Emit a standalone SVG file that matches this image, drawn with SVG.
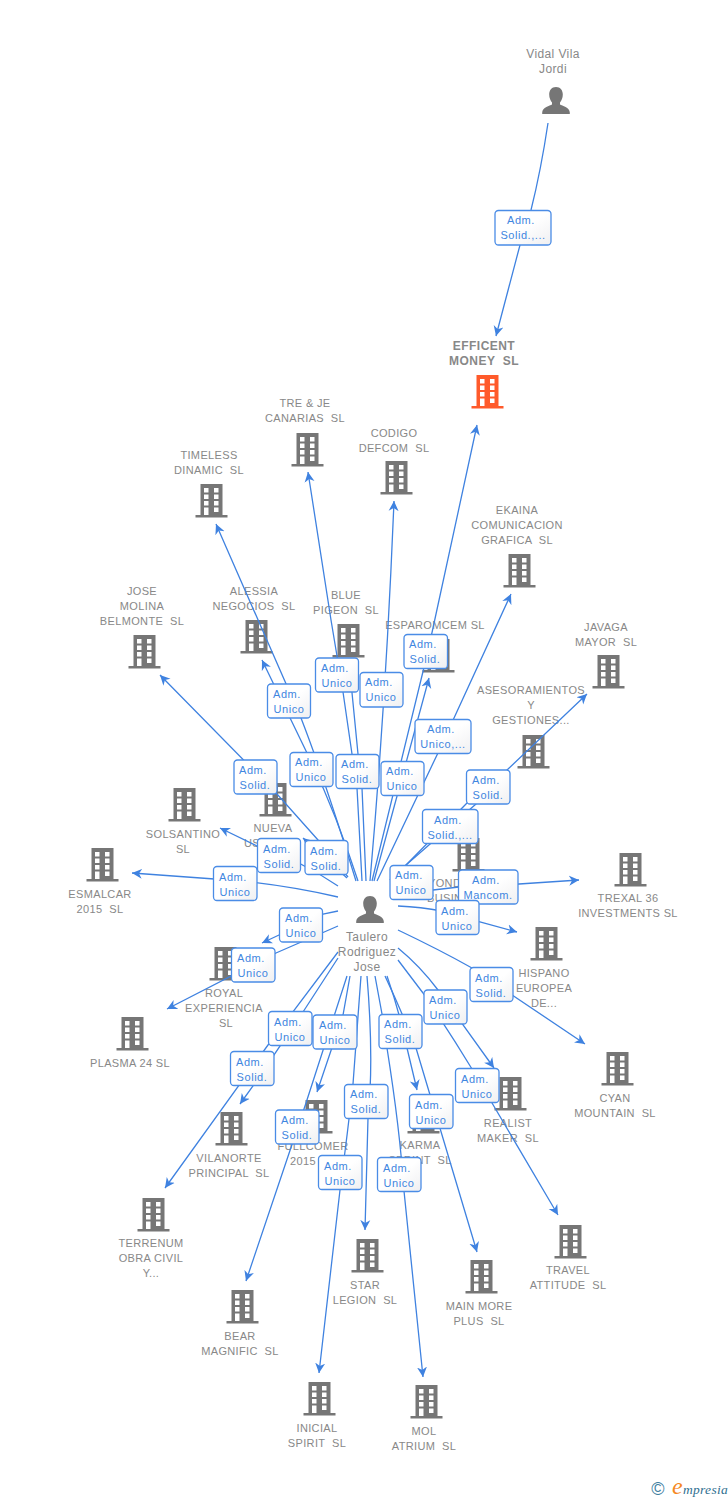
<svg xmlns="http://www.w3.org/2000/svg" width="728" height="1500" viewBox="0 0 728 1500">
<style>
text{font-family:"Liberation Sans",Arial,sans-serif}
.n text{font-size:11px;letter-spacing:.35px;fill:#888;text-anchor:middle}
.p text{font-size:12px;letter-spacing:.4px;fill:#888;text-anchor:middle}
.n text.s{text-anchor:start}
.n text.e{font-size:12px;font-weight:bold;letter-spacing:.45px}
.b{fill:#767676}
.o{fill:#ff5a2b}
#connectors path{fill:none;stroke:#3f82e0;stroke-width:1.3;marker-end:url(#arr)}
#labels rect{fill:url(#lg);stroke:#4a8ce6;stroke-width:1.3}
#labels text{font-size:11px;letter-spacing:.55px;fill:#3f86e0;text-anchor:middle}
</style>
<defs>
<marker id="arr" markerUnits="userSpaceOnUse" markerWidth="12" markerHeight="12" refX="10" refY="6" orient="auto" viewBox="0 0 12 12"><path d="M10,6L0,1L3,6L0,11Z" fill="#3f82e0"/></marker>
<linearGradient id="lg" x1="0" y1="0" x2="1" y2="1"><stop offset="0" stop-color="#fff"/><stop offset=".5" stop-color="#fff"/><stop offset="1" stop-color="#efeff1"/></linearGradient>
<path id="bd" transform="translate(.5,0)" fill-rule="evenodd" d="M-11,0H11V31H16V33.5H-16V31H-11ZM-7.5,4V8.5H-3V4ZM2.500,4V8.500H7V4ZM-7.5,10.500V15H-3V10.500ZM2.500,10.500V15H7V10.500ZM-7.500,17V21.500H-3V17ZM2.500,17V21.500H7V17ZM-7.500,23.500V31H-3V23.500ZM2.500,23.500V28H7V23.500Z"/>
<path id="pr" d="M0,0C4.500,0 6.800,3.500 6.800,7.500C6.800,11 5.500,13.500 4,15.500V17.500C6,19 13.800,20 13.800,25.500V27H-13.800V25.500C-13.800,20 -6,19 -4,17.500V15.500C-5.500,13.500 -6.800,11 -6.800,7.500C-6.800,3.500 -4.500,0 0,0Z" fill="#767676"/>
</defs>
<rect width="728" height="1500" fill="#fff"/>

<g id="nodes">
<g id="person-vidal" class="p"><text x="553" y="58">Vidal Vila</text><text x="553" y="73">Jordi</text><use href="#pr" x="556" y="87"/></g>
<g id="n-efficent" class="n"><text class="e" x="484" y="350">EFFICENT</text><text class="e" x="484" y="365">MONEY &#160;SL</text><use href="#bd" x="487" y="375" class="o"/></g>
<g id="n-treje" class="n"><text x="305" y="407">TRE &amp; JE</text><text x="305" y="422">CANARIAS &#160;SL</text><use href="#bd" x="307" y="433" class="b"/></g>
<g id="n-codigo" class="n"><text x="394" y="437">CODIGO</text><text x="394" y="452">DEFCOM &#160;SL</text><use href="#bd" x="396" y="461" class="b"/></g>
<g id="n-timeless" class="n"><text x="209" y="459">TIMELESS</text><text x="209" y="474">DINAMIC &#160;SL</text><use href="#bd" x="211" y="484" class="b"/></g>
<g id="n-ekaina" class="n"><text x="517" y="514">EKAINA</text><text x="517" y="529">COMUNICACION</text><text x="517" y="544">GRAFICA &#160;SL</text><use href="#bd" x="519" y="554" class="b"/></g>
<g id="n-jose" class="n"><text x="142" y="595">JOSE</text><text x="142" y="610">MOLINA</text><text x="142" y="625">BELMONTE &#160;SL</text><use href="#bd" x="144" y="635" class="b"/></g>
<g id="n-alessia" class="n"><text x="254" y="595">ALESSIA</text><text x="254" y="610">NEGOCIOS &#160;SL</text><use href="#bd" x="256" y="620" class="b"/></g>
<g id="n-blue" class="n"><text x="346" y="599">BLUE</text><text x="346" y="614">PIGEON &#160;SL</text><use href="#bd" x="348" y="624" class="b"/></g>
<g id="n-esparomcem" class="n"><text x="435" y="629">ESPAROMCEM SL</text><use href="#bd" x="438" y="639" class="b"/></g>
<g id="n-javaga" class="n"><text x="606" y="631">JAVAGA</text><text x="606" y="646">MAYOR &#160;SL</text><use href="#bd" x="608" y="655" class="b"/></g>
<g id="n-asesor" class="n"><text x="531" y="694">ASESORAMIENTOS</text><text x="531" y="709">Y</text><text x="531" y="724">GESTIONES...</text><use href="#bd" x="533" y="735" class="b"/></g>
<g id="n-solsantino" class="n"><text x="183" y="838">SOLSANTINO</text><text x="183" y="853">SL</text><use href="#bd" x="184" y="788" class="b"/></g>
<g id="n-nueva" class="n"><text x="273" y="832">NUEVA</text><text class="s" x="244" y="847">US</text><use href="#bd" x="275" y="783" class="b"/></g>
<g id="n-esmalcar" class="n"><text x="100" y="898">ESMALCAR</text><text x="100" y="913">2015 &#160;SL</text><use href="#bd" x="102" y="848" class="b"/></g>
<g id="n-ond" class="n"><text class="s" x="428" y="887">YOND</text><text class="s" x="427" y="902">BUSIN</text><use href="#bd" x="468" y="838" class="b"/></g>
<g id="n-trexal" class="n"><text x="628" y="902">TREXAL 36</text><text x="628" y="917">INVESTMENTS SL</text><use href="#bd" x="630" y="853" class="b"/></g>
<g id="n-hispano" class="n"><text x="544" y="977">HISPANO</text><text x="544" y="992">EUROPEA</text><text x="544" y="1007">DE...</text><use href="#bd" x="546" y="927" class="b"/></g>
<g id="n-royal" class="n"><text x="224" y="997">ROYAL</text><text x="224" y="1012">EXPERIENCIA</text><text x="226" y="1027">SL</text><use href="#bd" x="225" y="947" class="b"/></g>
<g id="n-plasma" class="n"><text x="130" y="1067">PLASMA 24 SL</text><use href="#bd" x="132" y="1017" class="b"/></g>
<g id="n-cyan" class="n"><text x="615" y="1102">CYAN</text><text x="615" y="1117">MOUNTAIN &#160;SL</text><use href="#bd" x="617" y="1052" class="b"/></g>
<g id="n-realist" class="n"><text x="508" y="1127">REALIST</text><text x="508" y="1142">MAKER &#160;SL</text><use href="#bd" x="510" y="1077" class="b"/></g>
<g id="n-vilanorte" class="n"><text x="229" y="1162">VILANORTE</text><text x="229" y="1177">PRINCIPAL &#160;SL</text><use href="#bd" x="231" y="1112" class="b"/></g>
<g id="n-fullcomer" class="n"><text x="313" y="1150">FULLCOMER</text><text class="s" x="290" y="1165">2015</text><use href="#bd" x="316" y="1100" class="b"/></g>
<g id="n-karma" class="n"><text x="420" y="1149">KARMA</text><text x="420" y="1164">SPRINT &#160;SL</text><use href="#bd" x="423" y="1100" class="b"/></g>
<g id="n-terrenum" class="n"><text x="151" y="1247">TERRENUM</text><text x="151" y="1262">OBRA CIVIL</text><text x="151" y="1277">Y...</text><use href="#bd" x="153" y="1198" class="b"/></g>
<g id="n-star" class="n"><text x="365" y="1289">STAR</text><text x="365" y="1304">LEGION &#160;SL</text><use href="#bd" x="367" y="1239" class="b"/></g>
<g id="n-travel" class="n"><text x="568" y="1274">TRAVEL</text><text x="568" y="1289">ATTITUDE &#160;SL</text><use href="#bd" x="570" y="1225" class="b"/></g>
<g id="n-main" class="n"><text x="479" y="1310">MAIN MORE</text><text x="479" y="1325">PLUS &#160;SL</text><use href="#bd" x="481" y="1260" class="b"/></g>
<g id="n-bear" class="n"><text x="240" y="1340">BEAR</text><text x="240" y="1355">MAGNIFIC &#160;SL</text><use href="#bd" x="242" y="1290" class="b"/></g>
<g id="n-inicial" class="n"><text x="317" y="1432">INICIAL</text><text x="317" y="1447">SPIRIT &#160;SL</text><use href="#bd" x="319" y="1382" class="b"/></g>
<g id="n-mol" class="n"><text x="424" y="1435">MOL</text><text x="424" y="1450">ATRIUM &#160;SL</text><use href="#bd" x="426" y="1385" class="b"/></g>
<g id="person-taulero" class="p"><use href="#pr" x="370" y="896"/><text x="367" y="941">Taulero</text><text x="367" y="956">Rodriguez</text><text x="367" y="971">Jose</text></g>
</g>

<g id="connectors">
<path d="M548,123Q541,170 531,210L520,245L496,336"/>
<path d="M372,881L428,651L477,425"/>
<path d="M366,881L362,788L358,754L349,662"/>
<path d="M362,881L357,788L352,754L343,692L331,620L308,472"/>
<path d="M370,881Q386,700 394,501"/>
<path d="M374,881L429,678"/>
<path d="M377,881L437.600,753.700L511,594"/>
<path d="M356,881Q325,780 301,718L216,524"/>
<path d="M358,881Q335,810 307,753L262,660"/>
<path d="M348,877L318,840L277,794L160,675"/>
<path d="M347,878L303,838"/>
<path d="M338,886Q300,860 257,846L220,828"/>
<path d="M338,897Q285,885 235,880.500L132,873"/>
<path d="M390,880L406,865L476,804L506,771L587,694"/>
<path d="M390,880L406,865L467,803L497,773"/>
<path d="M398,893L433,890L459,887L519,884L579,880"/>
<path d="M398,906Q445,908 479,921.700L517,932"/>
<path d="M398,930Q440,950 472,968L585,1044"/>
<path d="M398,948Q420,966 438,990L494,1068"/>
<path d="M398,960L423,993Q447,1028 472,1069L558,1215"/>
<path d="M385,976Q402,1012 416,1048L477,1252"/>
<path d="M387,976Q399,1010 407,1048L417,1090"/>
<path d="M375,976L382,1014L387,1048Q400,1130 404,1191L423,1377"/>
<path d="M367,976Q374,1060 368,1118L365,1230"/>
<path d="M361,976L353,1084Q348,1130 340,1190L319,1373"/>
<path d="M350,976L343,1015L317,1092"/>
<path d="M347,976L306,1103L246,1281"/>
<path d="M338,958L303,1012L253,1086L240,1104"/>
<path d="M338,952L268,1045L165,1188"/>
<path d="M338,911L323,914L279,935L262,943"/>
<path d="M338,926L276,953L167,1009"/>
</g>

<g id="labels">
<g><rect x="495" y="210.500" width="56" height="34.500" rx="3.500"/><text x="521" y="224">Adm.</text><text x="523" y="239">Solid.,...</text></g>
<g><rect x="404" y="634.500" width="43.500" height="34" rx="3.500"/><text x="423" y="648">Adm.</text><text x="425" y="663">Solid.</text></g>
<g><rect x="315.500" y="658" width="43" height="34" rx="3.500"/><text x="335" y="672">Adm.</text><text x="337" y="687">Unico</text></g>
<g><rect x="360" y="672.500" width="43" height="34.500" rx="3.500"/><text x="379" y="686">Adm.</text><text x="381" y="701">Unico</text></g>
<g><rect x="267.500" y="684" width="43" height="34" rx="3.500"/><text x="287" y="698">Adm.</text><text x="289" y="713">Unico</text></g>
<g><rect x="415" y="719.500" width="56" height="34" rx="3.500"/><text x="441" y="733">Adm.</text><text x="443" y="748">Unico,...</text></g>
<g><rect x="290" y="752.500" width="43" height="34" rx="3.500"/><text x="309" y="766">Adm.</text><text x="311" y="781">Unico</text></g>
<g><rect x="336" y="754.500" width="43" height="34" rx="3.500"/><text x="355" y="768">Adm.</text><text x="357" y="783">Solid.</text></g>
<g><rect x="381" y="761.500" width="43" height="34" rx="3.500"/><text x="400" y="775">Adm.</text><text x="402" y="790">Unico</text></g>
<g><rect x="234" y="760" width="43" height="34" rx="3.500"/><text x="253" y="774">Adm.</text><text x="255" y="789">Solid.</text></g>
<g><rect x="466.500" y="770" width="43.500" height="34" rx="3.500"/><text x="486" y="784">Adm.</text><text x="488" y="799">Solid.</text></g>
<g><rect x="422.500" y="809.500" width="55.500" height="34" rx="3.500"/><text x="448" y="824">Adm.</text><text x="450" y="839">Solid.,...</text></g>
<g><rect x="257.500" y="838.500" width="43" height="34" rx="3.500"/><text x="277" y="853">Adm.</text><text x="279" y="868">Solid.</text></g>
<g><rect x="305" y="840.500" width="43" height="34" rx="3.500"/><text x="324" y="855">Adm.</text><text x="326" y="870">Solid.</text></g>
<g><rect x="390" y="865.500" width="43" height="34" rx="3.500"/><text x="409" y="879">Adm.</text><text x="411" y="894">Unico</text></g>
<g><rect x="458.500" y="870" width="59.500" height="34" rx="3.500"/><text x="486" y="884">Adm.</text><text x="488" y="899">Mancom.</text></g>
<g><rect x="213.500" y="866.500" width="43.500" height="34" rx="3.500"/><text x="233" y="881">Adm.</text><text x="235" y="896">Unico</text></g>
<g><rect x="436" y="900.500" width="43" height="34" rx="3.500"/><text x="455" y="915">Adm.</text><text x="457" y="930">Unico</text></g>
<g><rect x="279.500" y="908" width="43" height="34" rx="3.500"/><text x="299" y="922">Adm.</text><text x="301" y="937">Unico</text></g>
<g><rect x="231.500" y="948" width="43.500" height="34" rx="3.500"/><text x="251" y="962">Adm.</text><text x="253" y="977">Unico</text></g>
<g><rect x="470" y="967.500" width="43" height="34" rx="3.500"/><text x="489" y="982">Adm.</text><text x="491" y="997">Solid.</text></g>
<g><rect x="424" y="990" width="43" height="34" rx="3.500"/><text x="443" y="1004">Adm.</text><text x="445" y="1019">Unico</text></g>
<g><rect x="268.500" y="1011.500" width="43.500" height="34" rx="3.500"/><text x="288" y="1026">Adm.</text><text x="290" y="1041">Unico</text></g>
<g><rect x="313" y="1015" width="44" height="34" rx="3.500"/><text x="333" y="1029">Adm.</text><text x="335" y="1044">Unico</text></g>
<g><rect x="379" y="1014.500" width="43" height="34" rx="3.500"/><text x="398" y="1028">Adm.</text><text x="400" y="1043">Solid.</text></g>
<g><rect x="230.500" y="1051.500" width="43.500" height="34" rx="3.500"/><text x="250" y="1066">Adm.</text><text x="252" y="1081">Solid.</text></g>
<g><rect x="455.500" y="1068.500" width="43.500" height="34" rx="3.500"/><text x="475" y="1083">Adm.</text><text x="477" y="1098">Unico</text></g>
<g><rect x="344.500" y="1084.500" width="43.500" height="34" rx="3.500"/><text x="364" y="1098">Adm.</text><text x="366" y="1113">Solid.</text></g>
<g><rect x="409.500" y="1094.500" width="43.500" height="34" rx="3.500"/><text x="429" y="1109">Adm.</text><text x="431" y="1124">Unico</text></g>
<g><rect x="275.500" y="1110" width="43.500" height="34" rx="3.500"/><text x="295" y="1124">Adm.</text><text x="297" y="1139">Solid.</text></g>
<g><rect x="318.500" y="1155.500" width="43.500" height="34" rx="3.500"/><text x="338" y="1170">Adm.</text><text x="340" y="1185">Unico</text></g>
<g><rect x="377.500" y="1157.500" width="43.500" height="34" rx="3.500"/><text x="397" y="1172">Adm.</text><text x="399" y="1187">Unico</text></g>
</g>

<g id="logo">
<text x="658" y="1495" font-size="18" text-anchor="middle" fill="#3f7f9f">©</text>
<text x="672" y="1494" style="font-family:'Liberation Serif',serif" font-style="italic" font-size="13.500" fill="#2f6f8f" letter-spacing=".3"><tspan font-size="24" fill="#f5891f">e</tspan>mpresia</text>
</g>
</svg>
